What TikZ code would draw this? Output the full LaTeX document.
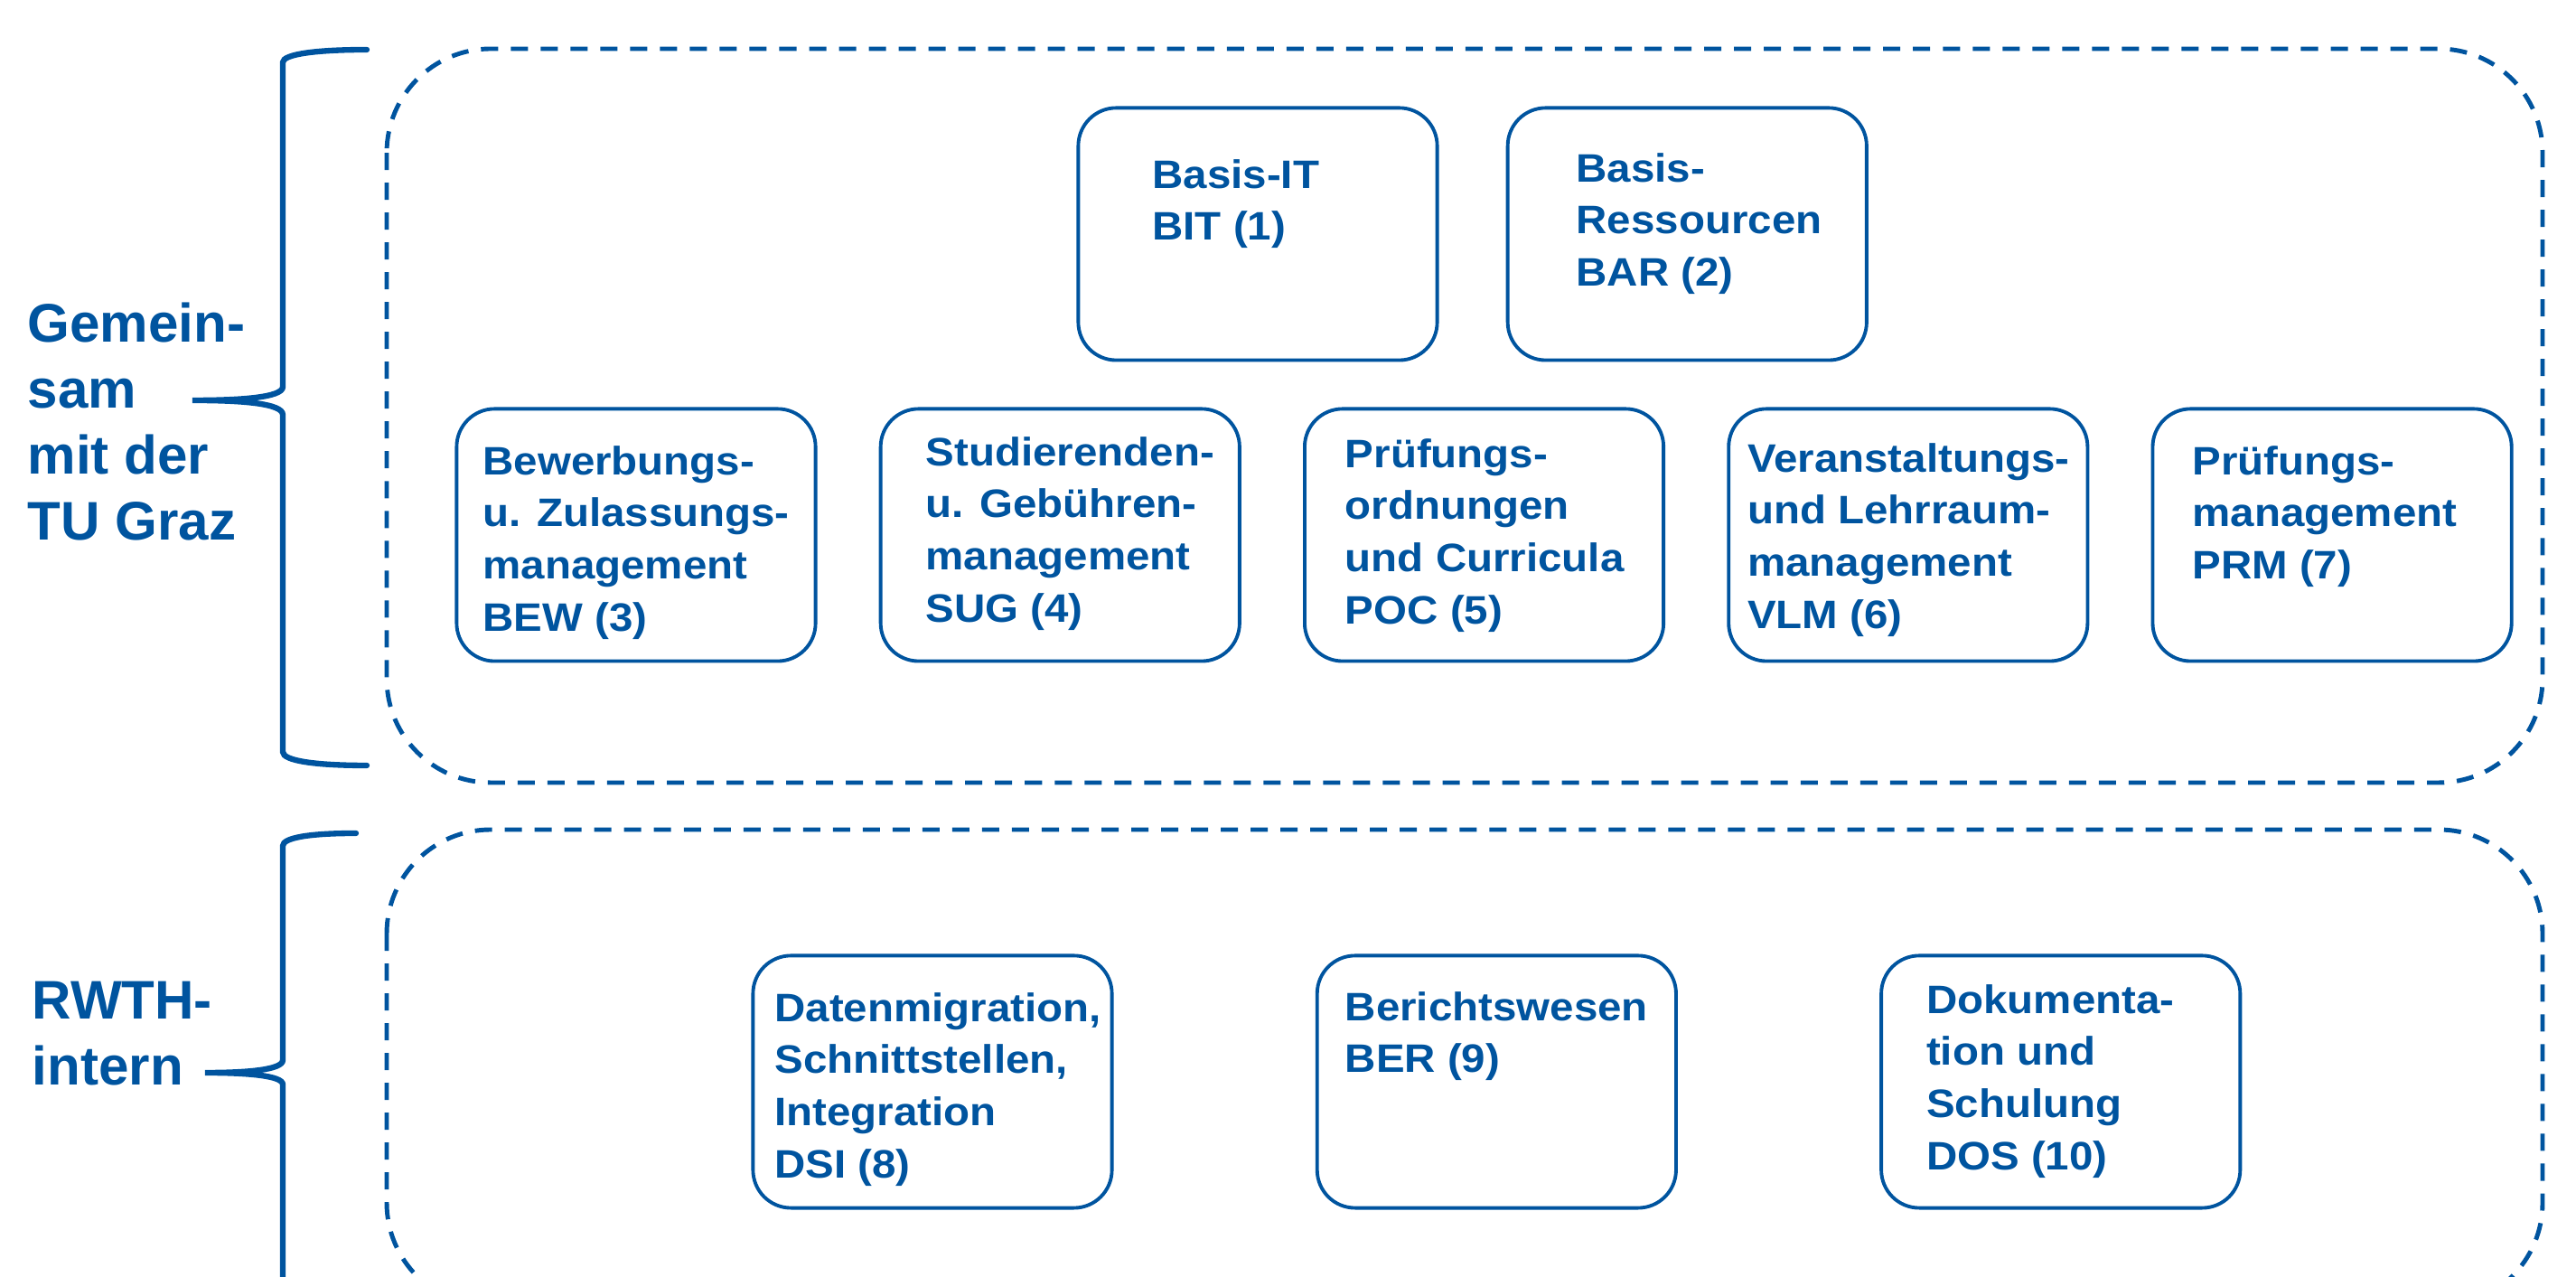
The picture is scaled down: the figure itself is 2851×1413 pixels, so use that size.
\documentclass[tikz,border=0pt]{standalone}
\usepackage{fontspec}
\setmainfont{Liberation Sans}
\newfontfamily\modfont[FakeStretch=1.08]{Liberation Sans}
\usepackage{tikz}
\usetikzlibrary{positioning}
\definecolor{rwthblau}{RGB}{0,84,159}
\tikzset{
    modul/.style={
           rectangle,
           rounded corners=0.42cm,
           draw=rwthblau, line width=1.1pt,
           text=rwthblau,
           inner sep=0pt,
           },
    gruppe/.style={
           draw=rwthblau, line width=1.4pt,
           dash pattern=on 0.19cm off 0.14cm,
           rounded corners=1.15cm,
           },
    klammer/.style={
           draw=rwthblau, line width=1.8pt,
           line cap=round,
           },
    seite/.style={
           text=rwthblau,
           font=\fontsize{17.1pt}{20.8pt}\selectfont\bfseries,
           align=left,
           inner sep=0pt,
           anchor=north west,
           },
}
% text of a module box: x offset, y offset, lines
\newcommand{\modtext}[3]{%
    \parbox[c][2.79cm][t]{3.97cm}{%
        \modfont\bfseries\fontsize{12.5pt}{16.4pt}\selectfont
        \leftskip=#1\relax
        \vspace*{#2}#3}}

\begin{document}
\begin{tikzpicture}[x=0.01cm,y=0.01cm]
      \useasboundingbox (0,0) rectangle (2851,1413);
      \clip (0,0) rectangle (2851,1413);

      % GROUPS (dashed)
      \draw[gruppe] (428,1359) rectangle (2814,547);
      \draw[gruppe] (428,495) rectangle (2814,-33);

      % BRACE upper group
      \draw[klammer] (406,1358) .. controls (350,1358) and (313,1353) .. (313,1344)
            -- (313,985) .. controls (313,973) and (265,970) .. (213,970)
            .. controls (265,970) and (313,967) .. (313,954)
            -- (313,581) .. controls (313,571) and (350,566) .. (406,566);
      % BRACE lower group
      \draw[klammer] (394,491) .. controls (342,491) and (313,486) .. (313,477)
            -- (313,240) .. controls (313,229) and (272,226) .. (227,226)
            .. controls (272,226) and (313,223) .. (313,213)
            -- (313,-40);

      % SIDE LABELS
      \node[seite] (GEMEINSAM) at (30,1079) {Gemein-\\sam\\mit der\\TU Graz};
      \node[seite] (INTERN) at (35,328) {RWTH-\\intern};

      % MODULE BIT
      \node[modul] (BIT) at (1392,1154)
      {\modtext{0.82cm}{0.57cm}{Basis-IT\\BIT (1)}};

      % MODULE BAR
      \node[modul,
          right of=BIT,
          node distance=4.75cm,
          anchor=center] (BAR)
      {\modtext{0.76cm}{0.50cm}{Basis-\\Ressourcen\\BAR (2)}};

      % MODULE BEW
      \node[modul] (BEW) at (704,821)
      {\modtext{0.29cm}{0.41cm}{Bewerbungs-\\u. Zulassungs-\\management\\BEW (3)}};

      % MODULE SUG
      \node[modul,
          right of=BEW,
          node distance=4.69cm,
          anchor=center] (SUG)
      {\modtext{0.50cm}{0.31cm}{Studierenden-\\u. Gebühren-\\management\\SUG (4)}};

      % MODULE POC
      \node[modul,
          right of=SUG,
          node distance=4.69cm,
          anchor=center] (POC)
      {\modtext{0.45cm}{0.33cm}{Prüfungs-\\ordnungen\\und Curricula\\POC (5)}};

      % MODULE VLM
      \node[modul,
          right of=POC,
          node distance=4.69cm,
          anchor=center] (VLM)
      {\modtext{0.21cm}{0.38cm}{Veranstaltungs-\\und Lehrraum-\\management\\VLM (6)}};

      % MODULE PRM
      \node[modul,
          right of=VLM,
          node distance=4.69cm,
          anchor=center] (PRM)
      {\modtext{0.44cm}{0.41cm}{Prüfungs-\\management\\PRM (7)}};

      % MODULE DSI
      \node[modul] (DSI) at (1032,216)
      {\modtext{0.24cm}{0.41cm}{Datenmigration,\\Schnittstellen,\\Integration\\DSI (8)}};

      % MODULE BER
      \node[modul,
          right of=DSI,
          node distance=6.24cm,
          anchor=center] (BER)
      {\modtext{0.31cm}{0.40cm}{Berichtswesen\\BER (9)}};

      % MODULE DOS
      \node[modul,
          right of=BER,
          node distance=6.24cm,
          anchor=center] (DOS)
      {\modtext{0.50cm}{0.32cm}{Dokumenta-\\tion und\\Schulung\\DOS (10)}};

\end{tikzpicture}
\end{document}
